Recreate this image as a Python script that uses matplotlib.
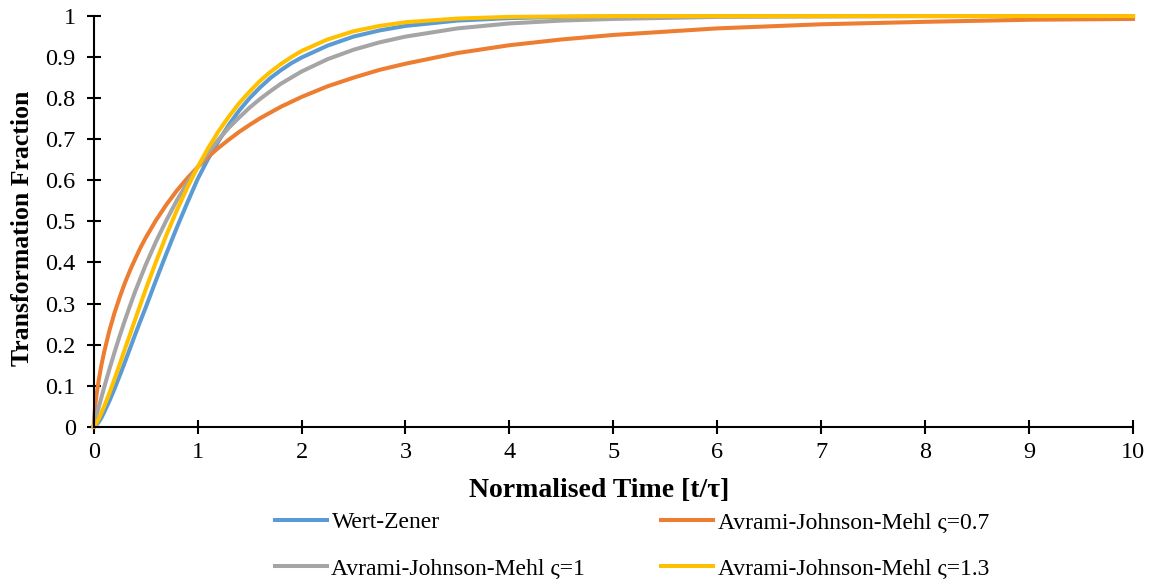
import matplotlib
matplotlib.use("Agg")
import matplotlib.pyplot as plt

plt.rcParams["font.family"] = ["Liberation Serif", "DejaVu Serif"]

# normalised time t/tau
t_norm = [0, 0.01, 0.02, 0.03, 0.05, 0.075, 0.1, 0.15, 0.2, 0.25, 0.3, 0.35, 0.4, 0.45,
          0.5, 0.6, 0.7, 0.8, 0.9, 1.0, 1.1, 1.2, 1.3, 1.4, 1.5, 1.6, 1.7, 1.8, 1.9, 2.0,
          2.25, 2.5, 2.75, 3.0, 3.5, 4.0, 4.5, 5.0, 6.0, 7.0, 8.0, 9.0, 10.0]

wert_zener = [0, 0.001, 0.003, 0.006, 0.012, 0.022, 0.035, 0.062, 0.092, 0.124, 0.157,
              0.191, 0.225, 0.258, 0.290, 0.357, 0.422, 0.485, 0.545, 0.603, 0.652,
              0.695, 0.735, 0.770, 0.800, 0.826, 0.849, 0.868, 0.885, 0.899,
              0.928, 0.950, 0.965, 0.976, 0.989, 0.995, 0.998, 0.999, 1.0, 1.0, 1.0, 1.0, 1.0]
ajm_07 = [0, 0.039, 0.063, 0.082, 0.116, 0.151, 0.181, 0.233, 0.277, 0.315, 0.350,
          0.381, 0.409, 0.436, 0.460, 0.503, 0.541, 0.575, 0.605, 0.632, 0.657,
          0.679, 0.699, 0.718, 0.735, 0.751, 0.765, 0.779, 0.791, 0.803,
          0.829, 0.850, 0.869, 0.884, 0.910, 0.929, 0.943, 0.954, 0.970, 0.980,
          0.986, 0.991, 0.993]
ajm_10 = [0, 0.010, 0.020, 0.030, 0.049, 0.072, 0.095, 0.139, 0.181, 0.221, 0.259,
          0.295, 0.330, 0.362, 0.394, 0.451, 0.503, 0.551, 0.593, 0.632, 0.667,
          0.699, 0.728, 0.753, 0.777, 0.798, 0.817, 0.835, 0.850, 0.865,
          0.895, 0.918, 0.936, 0.950, 0.970, 0.982, 0.989, 0.993, 0.998, 0.999,
          1.0, 1.0, 1.0]
ajm_13 = [0, 0.003, 0.006, 0.010, 0.020, 0.034, 0.049, 0.081, 0.116, 0.152, 0.189,
          0.225, 0.262, 0.298, 0.334, 0.402, 0.467, 0.527, 0.582, 0.632, 0.678,
          0.719, 0.755, 0.788, 0.816, 0.842, 0.864, 0.883, 0.900, 0.915,
          0.943, 0.963, 0.976, 0.985, 0.994, 0.998, 0.999, 1.0, 1.0, 1.0,
          1.0, 1.0, 1.0]

x_ticks = list(range(0, 11))
y_ticks = [0, 0.1, 0.2, 0.3, 0.4, 0.5, 0.6, 0.7, 0.8, 0.9, 1]
y_tick_labels = ["0", "0.1", "0.2", "0.3", "0.4", "0.5", "0.6", "0.7", "0.8", "0.9", "1"]

fig = plt.figure(figsize=(11.51, 5.80), dpi=100)
ax = fig.add_axes([0.0814, 0.2643, 0.903, 0.708])

lw = 2.9
l_wz, = ax.plot(t_norm, wert_zener, color="#5B9BD5", lw=lw, clip_on=False, label="Wert-Zener")
l_07, = ax.plot(t_norm, ajm_07, color="#ED7D31", lw=lw, clip_on=False, label="Avrami-Johnson-Mehl \u03c2=0.7")
l_10, = ax.plot(t_norm, ajm_10, color="#A5A5A5", lw=lw, clip_on=False, label="Avrami-Johnson-Mehl \u03c2=1")
l_13, = ax.plot(t_norm, ajm_13, color="#FFC000", lw=lw, clip_on=False, label="Avrami-Johnson-Mehl \u03c2=1.3")

ax.set_xlim(0, 10)
ax.set_ylim(0, 1)
ax.set_xticks(x_ticks)
ax.set_yticks(y_ticks)
ax.set_yticklabels(y_tick_labels)

for side in ["top", "right"]:
    ax.spines[side].set_visible(False)
for side in ["left", "bottom"]:
    ax.spines[side].set_linewidth(1.5)
ax.tick_params(direction="inout", length=10, width=1.5, labelsize=17.5)
ax.tick_params(axis="y", pad=8)
ax.tick_params(axis="x", pad=6)

ax.set_xlabel("Normalised Time [t/\u03c4]", fontsize=20, fontweight="bold")
ax.xaxis.set_label_coords(0.486, -0.125)
ax.set_ylabel("Transformation Fraction", fontsize=18.5, fontweight="bold")
ax.yaxis.set_label_coords(-0.057, 0.484)

# legend: 2 columns, filled column-wise
fig.legend([l_wz, l_10, l_07, l_13],
           [l.get_label() for l in [l_wz, l_10, l_07, l_13]],
           loc="center", bbox_to_anchor=(0.549, 0.059), ncol=2, frameon=False,
           fontsize=17, handlelength=2.2, handletextpad=0.2, labelspacing=1.05,
           columnspacing=3.2)

fig.savefig("out.png", dpi=100)
